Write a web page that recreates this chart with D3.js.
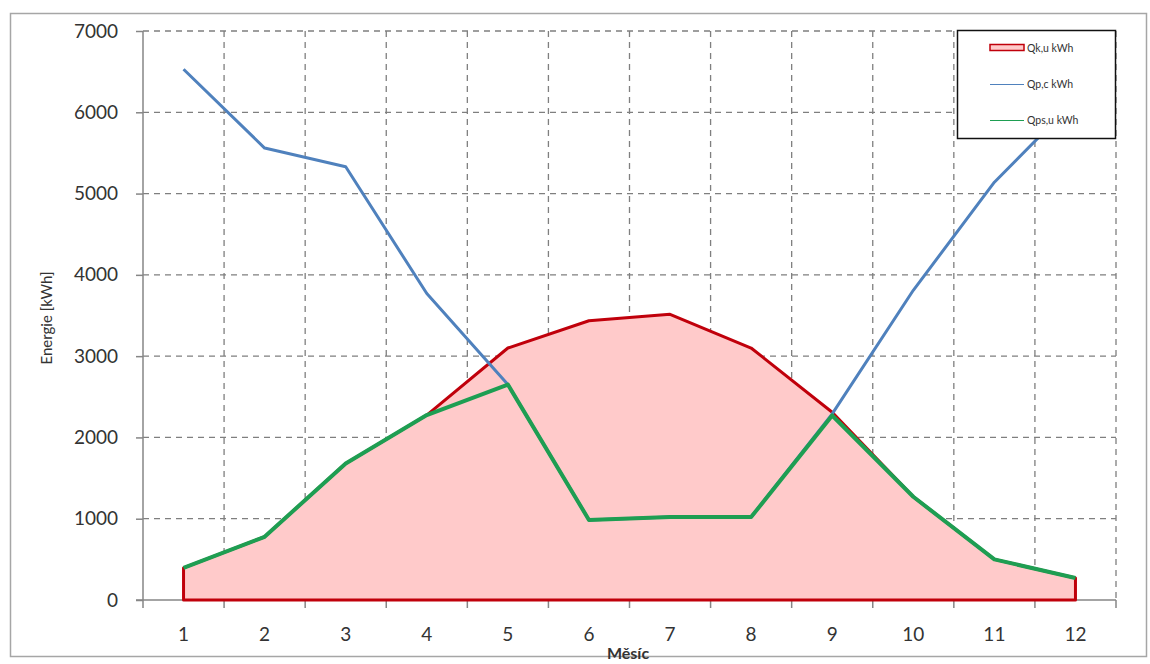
<!DOCTYPE html>
<meta charset="utf-8">
<html>
<head>
    <title>Energie</title>
    <script type="text/javascript" src="https://d3js.org/d3.v7.min.js"></script>
    <style>
        body { margin: 0; background: #fff; }
        text { font-family: Lato, "Liberation Sans", sans-serif; fill: #333; }
    </style>
</head>
<body>
    <svg></svg>
    <script>
        // data
        var months = ["1", "2", "3", "4", "5", "6", "7", "8", "9", "10", "11", "12"];
        var qku = [395, 778, 1680, 2275, 3100, 3435, 3515, 3100, 2310, 1270, 500, 270];     // Qk,u
        var qpc = [6530, 5560, 5330, 3770, 2650, 985, 1020, 1020, 2290, 3810, 5140, 6150];  // Qp,c
        var qpsu = [395, 778, 1680, 2275, 2650, 985, 1020, 1020, 2270, 1270, 500, 270];     // Qps,u
        var yTicks = [0, 1000, 2000, 3000, 4000, 5000, 6000, 7000];
        var legendNames = ["Qk,u kWh", "Qp,c kWh", "Qps,u kWh"];

        var w = 1150, h = 664;
        // note: "top" is taken by window.top, so plot edges get their own names
        var plotLeft = 143, plotRight = 1116, plotTop = 31, plotBottom = 600;

        var svg = d3.select("svg").attr("width", w).attr("height", h);

        // outer chart frame
        svg.append("rect")
            .attr("x", 10.5).attr("y", 13.5)
            .attr("width", 1136).attr("height", 643)
            .attr("fill", "#fff")
            .attr("stroke", "#a6a6a6")
            .attr("stroke-width", 1.5);

        var x = d3.scaleBand().domain(months).range([plotLeft, plotRight]).padding(0);
        var y = d3.scaleLinear().domain([0, 7000]).range([plotBottom, plotTop]);
        var cx = function (i) { return x(months[i]) + x.bandwidth() / 2; };

        // grid
        var grid = svg.append("g");
        grid.selectAll("line.h")
            .data(yTicks.filter(function (d) { return d > 0; }))
            .enter().append("line")
            .attr("x1", plotLeft).attr("x2", plotRight)
            .attr("y1", function (d) { return y(d); }).attr("y2", function (d) { return y(d); })
            .attr("stroke", "#7f7f7f").attr("stroke-width", 1.3).attr("stroke-dasharray", "6,5");
        grid.selectAll("line.v")
            .data(months)
            .enter().append("line")
            .attr("x1", function (d) { return x(d) + x.bandwidth(); })
            .attr("x2", function (d) { return x(d) + x.bandwidth(); })
            .attr("y1", plotTop).attr("y2", plotBottom)
            .attr("stroke", "#7f7f7f").attr("stroke-width", 1.3).attr("stroke-dasharray", "6,5");

        // y axis
        var yAxis = svg.append("g")
            .attr("transform", "translate(" + plotLeft + ",0)")
            .call(d3.axisLeft(y).tickValues(yTicks).tickFormat(d3.format("d")).tickSize(7).tickPadding(18));
        yAxis.select(".domain").attr("stroke", "#868686").attr("stroke-width", 1.5)
            .attr("d", "M0," + (plotBottom + 8) + "V" + plotTop);
        yAxis.selectAll(".tick line").attr("stroke", "#868686").attr("stroke-width", 1.5);
        yAxis.selectAll("text").style("font-size", "19px").attr("fill", "#333");

        // x axis
        var xAxis = svg.append("g")
            .attr("transform", "translate(0," + plotBottom + ")")
            .call(d3.axisBottom(x).tickSize(0).tickPadding(28));
        xAxis.select(".domain").attr("stroke", "#868686").attr("stroke-width", 1.5)
            .attr("d", "M" + (plotLeft - 7) + ",0H" + plotRight);
        xAxis.selectAll("text").style("font-size", "19px").attr("fill", "#333");
        xAxis.selectAll("line.bt")
            .data(months)
            .enter().append("line")
            .attr("x1", function (d) { return x(d) + x.bandwidth(); })
            .attr("x2", function (d) { return x(d) + x.bandwidth(); })
            .attr("y1", 0).attr("y2", 8)
            .attr("stroke", "#868686").attr("stroke-width", 1.5);

        // red area Qk,u
        var area = d3.area()
            .x(function (d, i) { return cx(i); })
            .y0(y(0))
            .y1(function (d) { return y(d); });
        svg.append("path")
            .attr("d", area(qku))
            .attr("fill", "#ffcaca")
            .attr("stroke", "#c0000b")
            .attr("stroke-width", 3)
            .attr("stroke-linejoin", "round");

        var line = d3.line()
            .x(function (d, i) { return cx(i); })
            .y(function (d) { return y(d); });

        svg.append("path")
            .attr("d", line(qpc))
            .attr("fill", "none")
            .attr("stroke", "#4f81bd")
            .attr("stroke-width", 3)
            .attr("stroke-linejoin", "round");

        svg.append("path")
            .attr("d", line(qpsu))
            .attr("fill", "none")
            .attr("stroke", "#1e9e52")
            .attr("stroke-width", 4)
            .attr("stroke-linejoin", "round");

        // axis titles
        svg.append("text")
            .attr("transform", "translate(52,318) rotate(-90)")
            .attr("text-anchor", "middle")
            .style("font-size", "15px")
            .attr("fill", "#222")
            .text("Energie [kWh]");
        svg.append("text")
            .attr("x", 628).attr("y", 659)
            .attr("text-anchor", "middle")
            .style("font-size", "16px")
            .style("font-weight", "bold")
            .text("Měsíc");

        // legend
        var lg = svg.append("g");
        lg.append("rect")
            .attr("x", 957.5).attr("y", 30.5)
            .attr("width", 158).attr("height", 108)
            .attr("fill", "#fff")
            .attr("stroke", "#111").attr("stroke-width", 1.5);
        lg.append("rect")
            .attr("x", 990).attr("y", 44.5)
            .attr("width", 34).attr("height", 6)
            .attr("fill", "#ffcaca").attr("stroke", "#c0000b").attr("stroke-width", 1.5);
        lg.append("line")
            .attr("x1", 990).attr("x2", 1024).attr("y1", 84.5).attr("y2", 84.5)
            .attr("stroke", "#4f81bd").attr("stroke-width", 1.2);
        lg.append("line")
            .attr("x1", 990).attr("x2", 1024).attr("y1", 120.5).attr("y2", 120.5)
            .attr("stroke", "#1e9e52").attr("stroke-width", 1.2);
        lg.selectAll("text.leg")
            .data(legendNames)
            .enter().append("text")
            .attr("x", 1027)
            .attr("y", function (d, i) { return [48, 84, 120][i]; })
            .attr("dy", "0.35em")
            .style("font-size", "10.5px")
            .attr("fill", "#666")
            .text(function (d) { return d; });
    </script>
</body>
</html>
